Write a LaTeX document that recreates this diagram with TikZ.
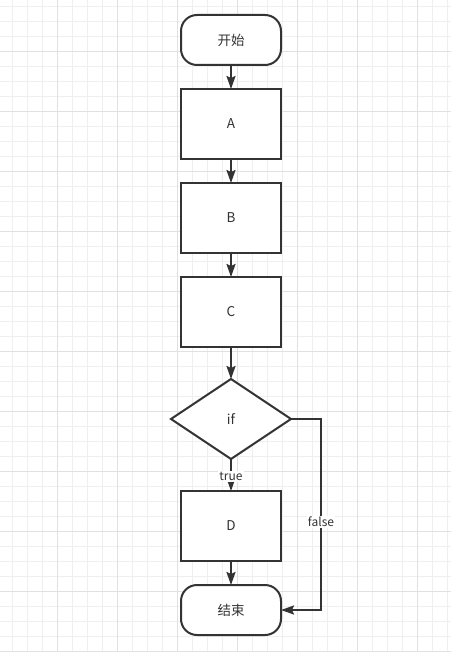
\documentclass[tikz,border=0pt]{standalone}
\usepackage{fontspec}
\setmainfont{Noto Sans CJK SC}
\usetikzlibrary{arrows.meta,positioning,shapes.geometric}
\definecolor{ink}{HTML}{333333}
\definecolor{gridminor}{RGB}{239,239,239}
\definecolor{gridmajor}{RGB}{225,225,225}

\begin{document}
\begin{tikzpicture}[
  x=1pt, y=-1pt,
  node distance=24pt,
  every node/.style={text=ink,font=\fontsize{13.5}{15}\selectfont},
  term/.style={draw=ink,line width=2pt,rounded corners=16pt,minimum width=100pt,minimum height=50pt,outer sep=0pt,fill=white},
  proc/.style={draw=ink,line width=2pt,minimum width=100pt,minimum height=70pt,outer sep=0pt,fill=white},
  dec/.style={draw=ink,line width=2pt,diamond,minimum width=120pt,minimum height=80pt,inner sep=0pt,outer sep=0pt,fill=white},
  arr/.style={draw=ink,line width=2pt,-{Stealth[length=13pt,width=9pt,inset=2pt]}},
  lbl/.style={fill=white,inner sep=1pt,font=\fontsize{12}{14}\selectfont},
]
  \useasboundingbox (0,0) rectangle (451,652);
  \fill[white] (0,0) rectangle (451,652);
  \foreach \x in {12.3,27.3,...,450} \draw[gridminor,line width=1pt] (\x,0) -- (\x,652);
  \foreach \y in {6.7,21.7,...,652} \draw[gridminor,line width=1pt] (0,\y) -- (451,\y);
  \foreach \x in {57.3,117.3,...,450} \draw[gridmajor,line width=1.3pt] (\x,0) -- (\x,652);
  \foreach \y in {51.7,111.7,...,652} \draw[gridmajor,line width=1.3pt] (0,\y) -- (451,\y);

  \node[term] (start) at (231,40) {开始};
  \node[proc,below=of start] (A) {A};
  \node[proc,below=of A] (B) {B};
  \node[proc,below=of B] (C) {C};
  \node[dec,below=32pt of C] (if) {if};
  \node[proc,below=32pt of if] (D) {D};
  \node[term,below=of D] (end) {结束};
  \coordinate[right=30pt of if.east] (fk);

  \draw[arr] (start) -- (A);
  \draw[arr] (A) -- (B);
  \draw[arr] (B) -- (C);
  \draw[arr] (C) -- (if);
  \draw[arr] (if) -- node[lbl,pos=0.55]{true} (D);
  \draw[arr] (D) -- (end);
  \draw[arr] (if.east) -- (fk) |- node[lbl,pos=0.27]{false} (end.east);
\end{tikzpicture}
\end{document}
